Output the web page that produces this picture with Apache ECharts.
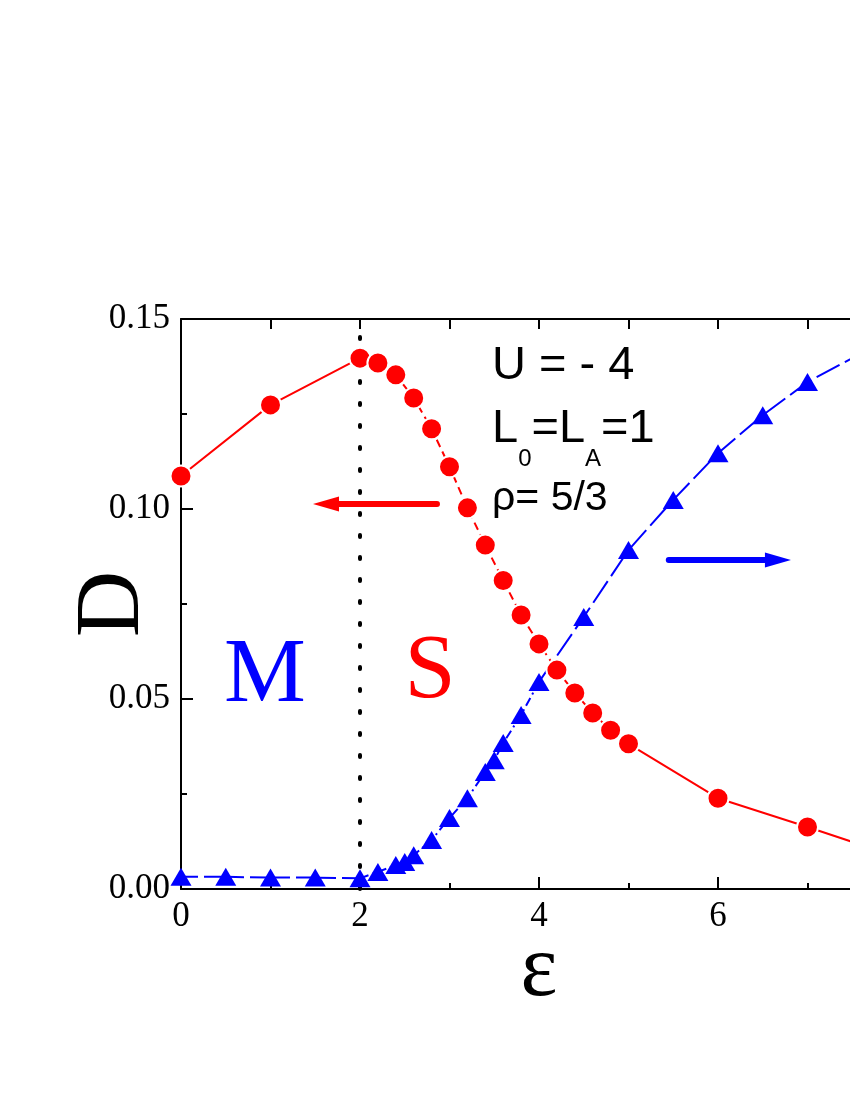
<!DOCTYPE html>
<html>
<head>
<meta charset="utf-8">
<script src="https://cdn.jsdelivr.net/npm/echarts@6/dist/echarts.min.js"></script>
<style>
  html, body { margin: 0; padding: 0; background: #fff; }
  #chart { width: 850px; height: 1100px; }
</style>
</head>
<body>
<div id="chart"></div>
<script>
  // red circles: D vs epsilon (left axis)
  var epsD = [0, 1, 2, 2.2, 2.4, 2.6, 2.8, 3.0, 3.2, 3.4, 3.6, 3.8, 4.0, 4.2, 4.4, 4.6, 4.8, 5.0, 6, 7, 8];
  var valD = [0.1087, 0.1274, 0.1397, 0.1384, 0.1353, 0.1292, 0.1211, 0.1111, 0.1003, 0.0905, 0.0812, 0.0721,
              0.0645, 0.0576, 0.0516, 0.0463, 0.0418, 0.0382, 0.0239, 0.0163, 0.0085];
  // blue triangles: right axis quantity (right axis is cut off in the picture)
  var epsB = [0, 0.5, 1, 1.5, 2, 2.2, 2.4, 2.5, 2.6, 2.8, 3.0, 3.2, 3.4, 3.5, 3.6, 3.8, 4.0, 4.5, 5.0, 5.5, 6.0, 6.5, 7.0, 8.0];
  var valB = [0.0032, 0.0032, 0.0030, 0.0030, 0.0028, 0.0045, 0.0063, 0.0071, 0.0089, 0.0129, 0.0187, 0.0239,
              0.0308, 0.0339, 0.0384, 0.0458, 0.0545, 0.0716, 0.0892, 0.1024, 0.1147, 0.1247, 0.1334, 0.146];
  var xTicks = [0, 2, 4, 6, 8];
  var yTicks = ['0.00', '0.05', '0.10', '0.15'];

  var RED = '#ff0000', BLUE = '#0000ff';
  var serif = 'Liberation Serif';

  function pairs(xs, ys, a, b) {
    var out = [];
    for (var i = a; i <= b; i++) out.push([xs[i], ys[i]]);
    return out;
  }
  function seg(data, color, type, yIdx) {
    return {
      type: 'line', data: data, yAxisIndex: yIdx, symbol: 'none', z: 2,
      lineStyle: { color: color, width: 2, type: type }
    };
  }

  var nD = epsD.length - 1, nB = epsB.length - 1;
  var series = [
    seg(pairs(epsD, valD, 0, 2), RED, 'solid', 0),
    seg(pairs(epsD, valD, 2, 17), RED, [8, 5], 0),
    seg(pairs(epsD, valD, 17, nD), RED, 'solid', 0),
    seg(pairs(epsB, valB, 0, 4), BLUE, [17, 6], 1),
    seg(pairs(epsB, valB, 4, 16), BLUE, [9, 4, 2, 4], 1),
    seg(pairs(epsB, valB, 16, nB), BLUE, [26, 6], 1),
    {
      type: 'scatter', data: pairs(epsD, valD, 0, nD), yAxisIndex: 0, z: 5,
      symbol: 'circle', symbolSize: 21,
      itemStyle: { color: RED, borderColor: '#fff', borderWidth: 2, opacity: 1 },
      markLine: {
        silent: true, symbol: ['none', 'triangle'], symbolSize: [15, 26], label: { show: false },
        lineStyle: { color: RED, width: 6, type: 'solid', cap: 'round' },
        data: [[{ coord: [2.86, 0.1013] }, { coord: [1.62, 0.1013] }]]
      }
    },
    {
      type: 'scatter', data: pairs(epsB, valB, 0, nB), yAxisIndex: 1, z: 5,
      symbol: 'triangle', symbolSize: [21, 18],
      itemStyle: { color: BLUE, opacity: 1 },
      markLine: {
        silent: true, symbol: ['none', 'triangle'], symbolSize: [15, 26], label: { show: false },
        lineStyle: { color: BLUE, width: 6, type: 'solid', cap: 'round' },
        data: [[{ coord: [5.45, 0.0866] }, { coord: [6.67, 0.0866] }]]
      }
    },
    {
      // dotted boundary between M and S phases
      type: 'line', data: [], yAxisIndex: 0,
      markLine: {
        silent: true, symbol: 'none', label: { show: false },
        lineStyle: { color: '#000', width: 4, type: [2, 20], cap: 'round' },
        data: [[{ coord: [2, 0.0] }, { coord: [2, 0.15] }]]
      }
    }
  ];

  var axisLine = { onZero: false, lineStyle: { color: '#000', width: 2 } };

  var chart = echarts.init(document.getElementById('chart'));
  chart.setOption({
    animation: false,
    backgroundColor: '#fff',
    grid: { left: 181, top: 319, width: 716, height: 570, containLabel: false, outerBoundsMode: 'none' },
    xAxis: [{
      type: 'value', min: 0, max: 8, interval: 2, position: 'bottom',
      name: 'ε', nameLocation: 'middle', nameGap: 39, nameMoveOverlap: false,
      nameTextStyle: { fontFamily: serif, fontSize: 88, color: '#000' },
      axisLine: axisLine,
      axisTick: { inside: true, length: 12, lineStyle: { color: '#000', width: 2 } },
      minorTick: { show: true, splitNumber: 2, length: 6, lineStyle: { color: '#000', width: 2 } },
      splitLine: { show: false },
      axisLabel: { fontFamily: serif, fontSize: 35, color: '#000', margin: 10,
        formatter: function (v) { return xTicks.indexOf(v) >= 0 ? String(v) : ''; } }
    }, {
      type: 'value', min: 0, max: 8, interval: 1, position: 'top',
      axisLine: axisLine,
      axisTick: { inside: true, length: 10, lineStyle: { color: '#000', width: 2 } },
      splitLine: { show: false }, axisLabel: { show: false }
    }],
    yAxis: [{
      type: 'value', min: 0, max: 0.15, interval: 0.05, position: 'left',
      name: 'D', nameLocation: 'middle', nameGap: 21, nameRotate: 90, nameMoveOverlap: false,
      nameTextStyle: { fontFamily: serif, fontSize: 92, color: '#000' },
      axisLine: axisLine,
      axisTick: { inside: true, length: 12, lineStyle: { color: '#000', width: 2 } },
      minorTick: { show: true, splitNumber: 2, length: 6, lineStyle: { color: '#000', width: 2 } },
      splitLine: { show: false },
      axisLabel: { fontFamily: serif, fontSize: 35, color: '#000', margin: 11,
        formatter: function (v) { return yTicks[Math.round(v / 0.05)]; } }
    }, {
      type: 'value', min: 0, max: 0.15, interval: 0.05, position: 'right',
      axisLine: axisLine,
      axisTick: { inside: true, length: 12 },
      splitLine: { show: false }, axisLabel: { show: false }
    }],
    graphic: [
      { type: 'text', x: 492, y: 366, z: 10,
        style: { text: 'U = - 4', fontFamily: 'Liberation Sans', fontSize: 47, fill: '#000', verticalAlign: 'middle' } },
      { type: 'text', x: 492, y: 429, z: 10,
        style: { text: '{n|L}{s|0}{n|=L}{s|A}{n|=1}', fill: '#000', verticalAlign: 'middle',
          rich: {
            n: { fontFamily: 'Liberation Sans', fontSize: 47, lineHeight: 84, verticalAlign: 'middle', fill: '#000' },
            s: { fontFamily: 'Liberation Sans', fontSize: 24, lineHeight: 84, verticalAlign: 'bottom', fill: '#000' }
          } } },
      { type: 'text', x: 492, y: 499, z: 10,
        style: { text: 'ρ= 5/3', fontFamily: 'Liberation Sans', fontSize: 41, fill: '#000', verticalAlign: 'middle' } },
      { type: 'text', x: 265, y: 677, z: 10,
        style: { text: 'M', fontFamily: serif, fontSize: 92, fill: BLUE, align: 'center', verticalAlign: 'middle' } },
      { type: 'text', x: 430, y: 673, z: 10,
        style: { text: 'S', fontFamily: serif, fontSize: 92, fill: RED, align: 'center', verticalAlign: 'middle' } }
    ],
    series: series
  });
</script>
</body>
</html>
